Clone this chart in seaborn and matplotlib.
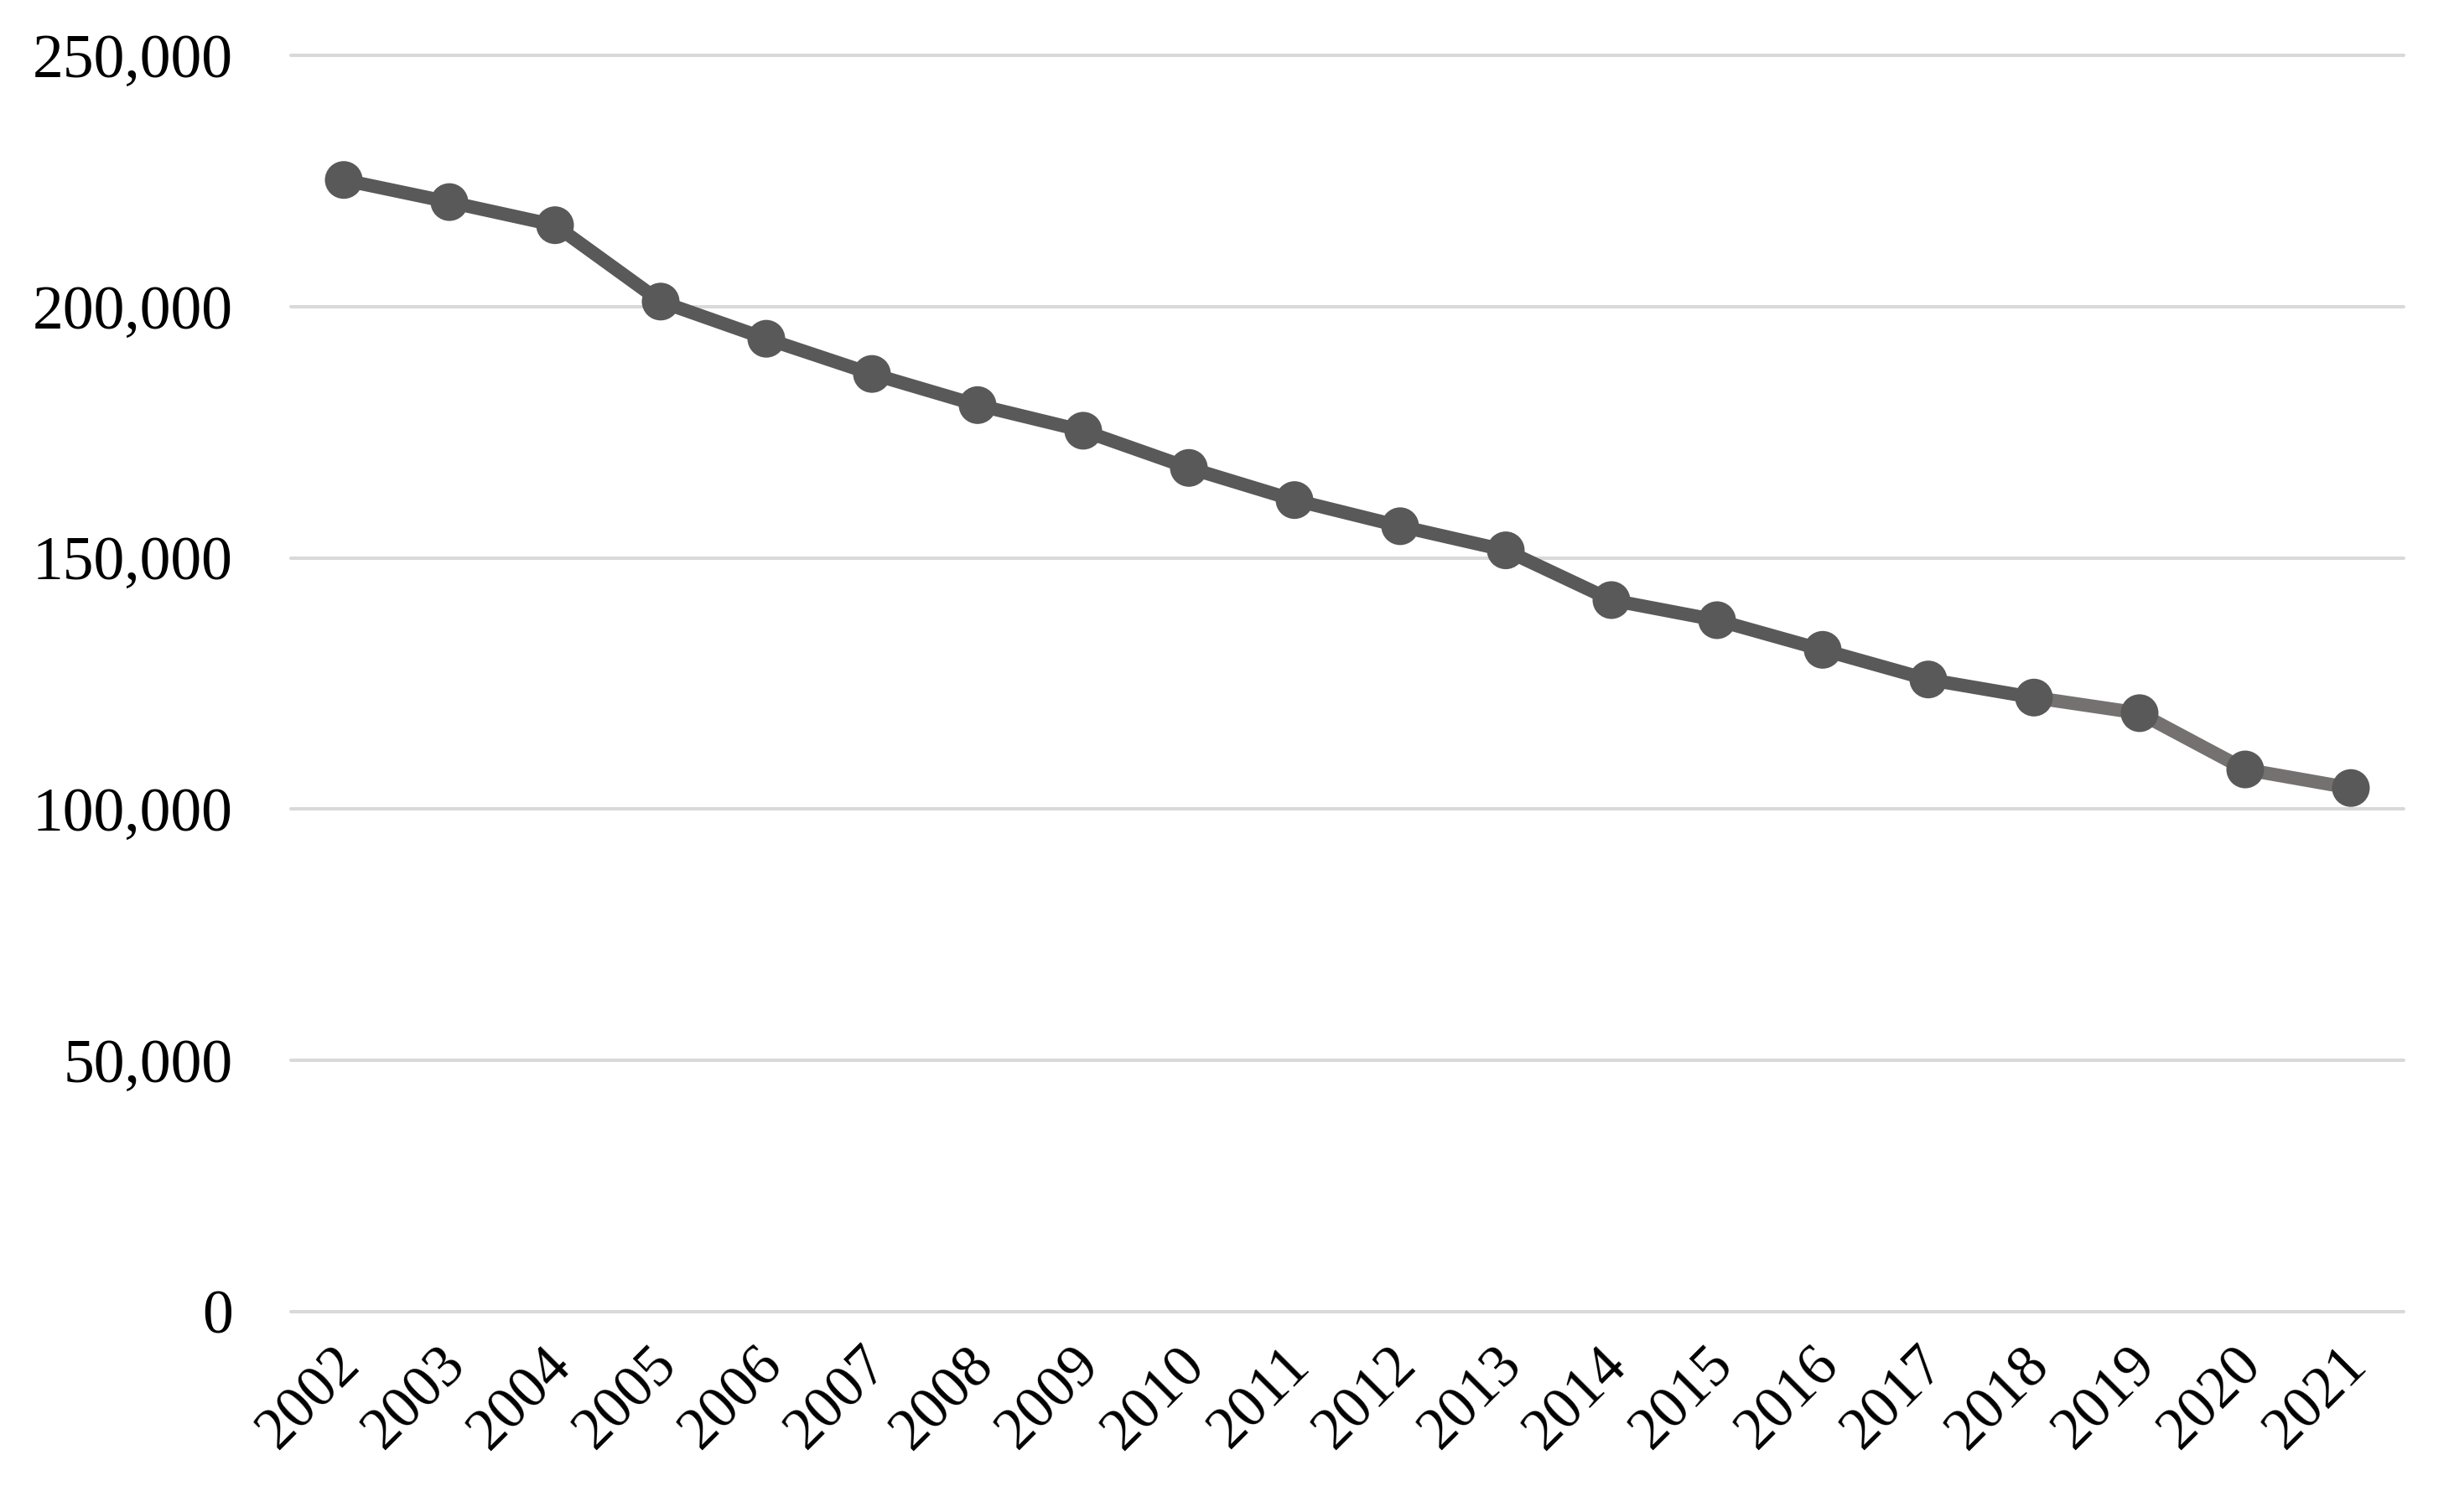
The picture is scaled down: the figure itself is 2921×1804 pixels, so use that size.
import matplotlib
matplotlib.use("Agg")
import matplotlib.pyplot as plt
import matplotlib.transforms as mtransforms
import pandas as pd
import seaborn as sns
from matplotlib.ticker import FuncFormatter

# values
years = [2002, 2003, 2004, 2005, 2006, 2007, 2008, 2009, 2010, 2011,
         2012, 2013, 2014, 2015, 2016, 2017, 2018, 2019, 2020, 2021]
values = [225200, 220800, 216200, 201000, 193600, 186600, 180400, 175300,
          167900, 161500, 156300, 151500, 141600, 137600, 131700, 125800,
          122200, 119100, 107900, 104200]
y_ticks = [0, 50000, 100000, 150000, 200000, 250000]

LINE = "#595959"
LINE_LATE = "#767171"
GRID = "#d9d9d9"

sns.set_theme(style="white")
plt.rcParams['font.family'] = ['Liberation Serif', 'DejaVu Serif']

df = pd.DataFrame({'pos': range(len(years)), 'year': [str(y) for y in years], 'value': values})

fig = plt.figure(figsize=(29.21, 18.04), dpi=100)
ax = fig.add_axes([0.1188, 0.1325, 0.8627, 0.8309])

# last few segments are a slightly warmer grey in the original
split = years.index(2018)
sns.lineplot(data=df.iloc[:split + 1], x='pos', y='value', color=LINE,
             linewidth=11.5, ax=ax, zorder=2)
sns.lineplot(data=df.iloc[split:], x='pos', y='value', color=LINE_LATE,
             linewidth=11.5, ax=ax, zorder=2)
sns.scatterplot(data=df, x='pos', y='value', color=LINE, s=1050,
                edgecolor='none', linewidth=0, ax=ax, zorder=3)

ax.set_xlim(-0.5, len(years) - 0.5)
ax.set_ylim(0, 250000)
ax.set_yticks(y_ticks)
ax.yaxis.set_major_formatter(FuncFormatter(lambda v, _: f"{v:,.0f}"))
ax.set_xticks(df['pos'])
ax.set_xticklabels(df['year'], rotation=45, ha='right', rotation_mode='anchor')

ax.yaxis.grid(True, color=GRID, linewidth=2.9)
ax.xaxis.grid(False)
ax.set_axisbelow(True)
for gl in ax.get_ygridlines():
    gl.set_clip_on(False)
for s in ax.spines.values():
    s.set_visible(False)

ax.tick_params(axis='y', length=0, pad=50, labelsize=53, colors='black')
ax.tick_params(axis='x', length=0, pad=22, labelsize=51, colors='black')
offset = mtransforms.ScaledTranslation(-0.14, 0, fig.dpi_scale_trans)
for lbl in ax.get_xticklabels():
    lbl.set_transform(lbl.get_transform() + offset)

ax.set_xlabel("")
ax.set_ylabel("")

fig.savefig("out.png", dpi=100, facecolor='white')
